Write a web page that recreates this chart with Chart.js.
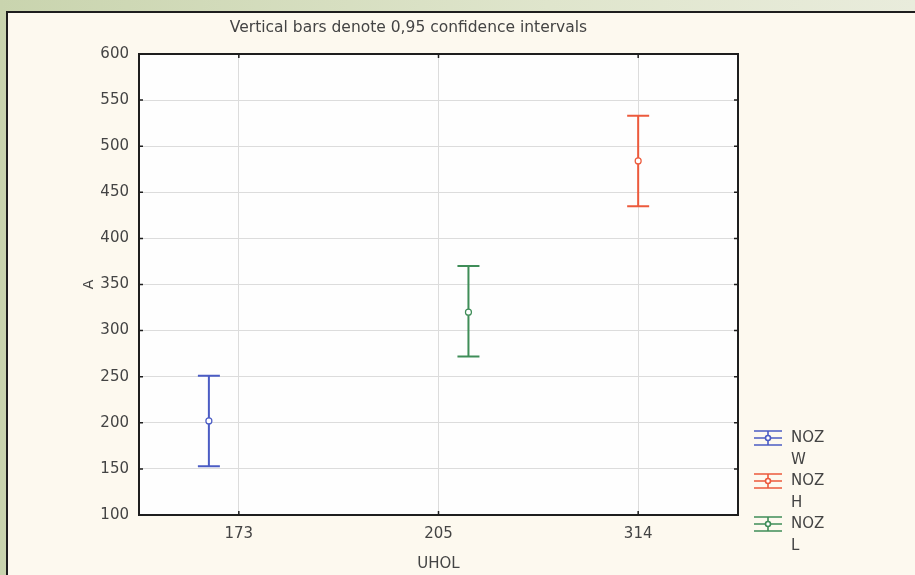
<!DOCTYPE html>
<html>
<head>
<meta charset="utf-8">
<script src="https://cdn.jsdelivr.net/npm/chart.js@4"></script>
<style>
  html, body { margin: 0; padding: 0; }
  body {
    width: 915px; height: 575px; overflow: hidden;
    background: linear-gradient(90deg, #c9d4ae 0%, #dfe5cc 60%, #e9ecdc 100%);
    position: relative;
  }
  #panel {
    position: absolute; left: 6px; top: 11px; right: -4px; bottom: -4px;
    background: #fdf9ef;
    border: 2px solid #1e1e1e;
  }
  #wrap { position: absolute; left: 0; top: 0; width: 915px; height: 575px; }
</style>
</head>
<body>
<div id="panel"></div>
<div id="wrap"><canvas id="ciChart"></canvas></div>
<script>
// categories on the x axis
var categories = ['173', '205', '314'];

// series (NOZ groups)
var seriesNames = ['W', 'H', 'L'];
var seriesColors = ['#4b5cc4', '#ec5a3c', '#3f8d58'];
var seriesOffsets = [-0.15, 0, 0.15];

// means and 0.95 confidence limits, per series per category
var meanW = [202, null, null];
var lowW = [153, null, null];
var highW = [251, null, null];

var meanH = [null, null, 484];
var lowH = [null, null, 435];
var highH = [null, null, 533];

var meanL = [null, 320, null];
var lowL = [null, 272, null];
var highL = [null, 370, null];

var yTicks = [100, 150, 200, 250, 300, 350, 400, 450, 500, 550, 600];

var titleText = 'Vertical bars denote 0,95 confidence intervals';
var fontFamily = '"DejaVu Sans", Verdana, sans-serif';
var textColor = '#444444';

var means = [meanW, meanH, meanL];
var lows = [lowW, lowH, lowL];
var highs = [highW, highH, highL];

function toPoints(arr, s) {
  var pts = [];
  arr.forEach(function (v, i) {
    if (v !== null) pts.push({ x: i + seriesOffsets[s], y: v, lo: lows[s][i], hi: highs[s][i] });
  });
  return pts;
}

var datasets = seriesNames.map(function (name, s) {
  return {
    label: 'NOZ ' + name,
    data: toPoints(means[s], s),
    borderColor: seriesColors[s],
    backgroundColor: '#ffffff',
    pointRadius: 3,
    pointBorderWidth: 1.2,
    showLine: false
  };
});

// draws whiskers, plot frame, title and legend
var errorBarPlugin = {
  id: 'errorBars',
  beforeDatasetsDraw: function (chart) {
    var ctx = chart.ctx;
    var xs = chart.scales.x, ys = chart.scales.y;
    ctx.save();
    chart.data.datasets.forEach(function (ds) {
      ctx.strokeStyle = ds.borderColor;
      ctx.lineWidth = 2;
      ds.data.forEach(function (p) {
        var px = xs.getPixelForValue(p.x);
        var yl = ys.getPixelForValue(p.lo);
        var yh = ys.getPixelForValue(p.hi);
        ctx.beginPath();
        ctx.moveTo(px, yl); ctx.lineTo(px, yh);
        ctx.moveTo(px - 11, yl); ctx.lineTo(px + 11, yl);
        ctx.moveTo(px - 11, yh); ctx.lineTo(px + 11, yh);
        ctx.stroke();
      });
    });
    ctx.restore();
  },
  afterDraw: function (chart) {
    var ctx = chart.ctx;
    var a = chart.chartArea;
    var xs = chart.scales.x, ys = chart.scales.y;
    ctx.save();
    ctx.strokeStyle = '#1e1e1e';
    ctx.lineWidth = 2;
    ctx.strokeRect(a.left, a.top, a.right - a.left, a.bottom - a.top);

    // small tick marks on the frame
    ctx.lineWidth = 1.5;
    ctx.beginPath();
    xs.ticks.forEach(function (t) {
      var px = xs.getPixelForValue(t.value);
      ctx.moveTo(px, a.top); ctx.lineTo(px, a.top + 4);
      ctx.moveTo(px, a.bottom); ctx.lineTo(px, a.bottom - 4);
    });
    ys.ticks.forEach(function (t) {
      var py = ys.getPixelForValue(t.value);
      ctx.moveTo(a.left, py); ctx.lineTo(a.left + 4, py);
      ctx.moveTo(a.right, py); ctx.lineTo(a.right - 4, py);
    });
    ctx.stroke();

    // title
    ctx.fillStyle = textColor;
    ctx.font = '15.5px ' + fontFamily;
    ctx.textAlign = 'center';
    ctx.textBaseline = 'middle';
    ctx.fillText(titleText, (a.left + a.right) / 2 - 30, a.top - 26);

    // legend
    ctx.textAlign = 'left';
    ctx.font = '15px ' + fontFamily;
    seriesNames.forEach(function (name, s) {
      var cx = a.right + 30;
      var cy = a.bottom - 77 + s * 43;
      ctx.strokeStyle = seriesColors[s];
      ctx.lineWidth = 1.6;
      ctx.beginPath();
      ctx.moveTo(cx - 14, cy - 7); ctx.lineTo(cx + 14, cy - 7);
      ctx.moveTo(cx - 14, cy + 7); ctx.lineTo(cx + 14, cy + 7);
      ctx.moveTo(cx - 14, cy); ctx.lineTo(cx + 14, cy);
      ctx.moveTo(cx, cy - 7); ctx.lineTo(cx, cy + 7);
      ctx.stroke();
      ctx.fillStyle = '#ffffff';
      ctx.beginPath();
      ctx.arc(cx, cy, 2.5, 0, Math.PI * 2);
      ctx.fill(); ctx.stroke();
      ctx.fillStyle = textColor;
      ctx.fillText('NOZ', cx + 23, cy);
      ctx.fillText(name, cx + 23, cy + 22);
    });
    ctx.restore();
  }
};

var chartBg = {
  id: 'chartBg',
  beforeDraw: function (chart) {
    var a = chart.chartArea;
    chart.ctx.save();
    chart.ctx.fillStyle = '#fefefe';
    chart.ctx.fillRect(a.left, a.top, a.right - a.left, a.bottom - a.top);
    chart.ctx.restore();
  }
};

var ciChart = new Chart(document.getElementById('ciChart').getContext('2d'), {
  type: 'scatter',
  data: { datasets: datasets },
  plugins: [chartBg, errorBarPlugin],
  options: {
    responsive: true,
    maintainAspectRatio: false,
    animation: false,
    layout: { padding: { left: 0, top: 54, right: 177, bottom: 0 } },
    plugins: {
      legend: { display: false },
      tooltip: { enabled: false }
    },
    scales: {
      x: {
        type: 'linear',
        min: -0.5,
        max: 2.5,
        afterBuildTicks: function (scale) {
          scale.ticks = categories.map(function (c, i) { return { value: i }; });
        },
        afterFit: function (scale) { scale.height = 60; },
        ticks: {
          padding: 10,
          color: textColor,
          font: { family: fontFamily, size: 15 },
          callback: function (v) { return categories[v]; }
        },
        grid: { color: '#dcdcdc', lineWidth: 1, drawTicks: false },
        border: { color: '#1e1e1e', width: 2 },
        title: {
          display: true,
          text: 'UHOL',
          color: textColor,
          font: { family: fontFamily, size: 15 },
          padding: { bottom: 2 }
        }
      },
      y: {
        min: 100,
        max: 600,
        afterBuildTicks: function (scale) {
          scale.ticks = yTicks.map(function (v) { return { value: v }; });
        },
        afterFit: function (scale) { scale.width = 139; },
        ticks: {
          padding: 10,
          color: textColor,
          font: { family: fontFamily, size: 15 }
        },
        grid: { color: '#dcdcdc', lineWidth: 1, drawTicks: false },
        border: { color: '#1e1e1e', width: 2 },
        title: {
          display: true,
          text: 'A',
          color: textColor,
          font: { family: fontFamily, size: 14 },
          padding: { top: 81 }
        }
      }
    }
  }
});
</script>
</body>
</html>
